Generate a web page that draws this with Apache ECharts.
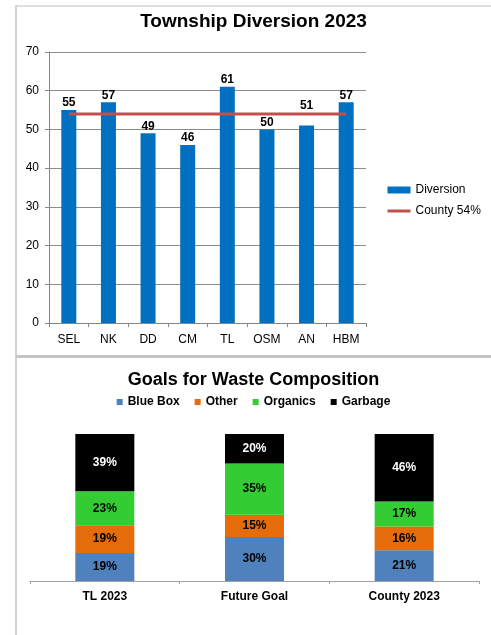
<!DOCTYPE html>
<html><head><meta charset="utf-8">
<script src="https://cdn.jsdelivr.net/npm/echarts@6/dist/echarts.min.js"></script>
<style>
html,body{margin:0;padding:0;background:#fff;width:491px;height:635px;overflow:hidden;position:relative;}
.ln{position:absolute;}
#c1{position:absolute;left:16px;top:6px;width:475px;height:349px;}
#c2{position:absolute;left:16px;top:357px;width:475px;height:278px;}
</style></head><body>
<div class="ln" style="left:16px;top:5px;width:475px;height:2px;background:#dedede"></div>
<div class="ln" style="left:15px;top:5px;width:2px;height:630px;background:#d4d4d4"></div>
<div class="ln" style="left:16px;top:355px;width:475px;height:3px;background:#c4c4c4"></div>
<div id="c1"></div>
<div id="c2"></div>
<script>
var townships = ['SEL','NK','DD','CM','TL','OSM','AN','HBM'];
var diversion = [55,57,49,46,61,50,51,57];
var countyRate = 54;
var yTicks = [0,10,20,30,40,50,60,70];

var compCategories = ['TL 2023','Future Goal','County 2023'];
var blueBox  = [19,30,21];
var other    = [19,15,16];
var organics = [23,35,17];
var garbage  = [39,20,46];

var FONT = 'Liberation Sans, Arial, sans-serif';

var c1 = echarts.init(document.getElementById('c1'));
c1.setOption({
  animation:false,
  textStyle:{fontFamily:FONT},
  title:{text:'Township Diversion 2023',left:'center',top:6,padding:0,
    textStyle:{fontFamily:FONT,fontSize:19,fontWeight:'bold',color:'#000'}},
  legend:{orient:'vertical',left:365,top:173,itemWidth:23,itemHeight:7,itemGap:9,
    textStyle:{fontFamily:FONT,fontSize:12,color:'#000'},
    data:[{name:'Diversion',icon:'rect'},
          {name:'County 54%',itemStyle:{opacity:0},lineStyle:{width:3,color:'#C0504D'}}]},
  grid:{left:33,top:46,width:317,height:271,containLabel:false},
  xAxis:{type:'category',data:townships,boundaryGap:true,
    axisLine:{lineStyle:{color:'#868686',width:1}},
    axisTick:{show:true,alignWithLabel:false,length:4,lineStyle:{color:'#868686'}},
    axisLabel:{fontFamily:FONT,fontSize:12,color:'#000',margin:11}},
  yAxis:{type:'value',min:yTicks[0],max:yTicks[yTicks.length-1],interval:10,
    axisLine:{show:true,lineStyle:{color:'#868686'}},
    axisTick:{show:true,length:4,lineStyle:{color:'#868686'}},
    axisLabel:{fontFamily:FONT,fontSize:12,color:'#000',margin:10},
    splitLine:{lineStyle:{color:'#8c8c8c',width:1}}},
  series:[
    {name:'Diversion',type:'bar',barWidth:15,
     itemStyle:{color:'#0070C0'},
     label:{show:true,position:'top',distance:1,fontFamily:FONT,fontSize:12,fontWeight:'bold',color:'#000'},
     data:diversion.map(function(v,i){
       return townships[i]==='AN' ? {value:v,label:{offset:[0,-13]}} : v;})},
    {name:'County 54%',type:'line',symbol:'none',showSymbol:false,
     lineStyle:{color:'#C0504D',width:3},itemStyle:{color:'#C0504D'},
     data:townships.map(function(){return countyRate;}),z:5}
  ]
});

var c2 = echarts.init(document.getElementById('c2'));
function stackSeries(name,data,color,txt){
  return {name:name,type:'bar',stack:'total',barWidth:59,data:data,
    itemStyle:{color:color},
    label:{show:true,position:'inside',formatter:'{c}%',fontFamily:FONT,fontSize:12,fontWeight:'bold',color:txt}};
}
c2.setOption({
  animation:false,
  textStyle:{fontFamily:FONT},
  title:{text:'Goals for Waste Composition',left:'center',top:14,padding:0,
    textStyle:{fontFamily:FONT,fontSize:18,fontWeight:'bold',color:'#000'}},
  legend:{left:'center',top:34,itemWidth:6,itemHeight:6,itemGap:15,icon:'rect',
    textStyle:{fontFamily:FONT,fontSize:12,fontWeight:'bold',color:'#000'},
    data:['Blue Box','Other','Organics','Garbage']},
  grid:{left:14,right:12,top:77,bottom:54,containLabel:false},
  xAxis:{type:'category',data:compCategories,
    axisLine:{lineStyle:{color:'#a0a0a0',width:1}},
    axisTick:{show:true,alignWithLabel:false,length:3,lineStyle:{color:'#a0a0a0'}},
    axisLabel:{fontFamily:FONT,fontSize:12,fontWeight:'bold',color:'#000',margin:10}},
  yAxis:{type:'value',min:0,max:100,show:false,splitLine:{show:false}},
  series:[
    stackSeries('Blue Box',blueBox,'#4F81BD','#000'),
    stackSeries('Other',other,'#E46C0A','#000'),
    stackSeries('Organics',organics,'#33CC33','#000'),
    stackSeries('Garbage',garbage,'#000000','#fff')
  ]
});
</script>
</body></html>
